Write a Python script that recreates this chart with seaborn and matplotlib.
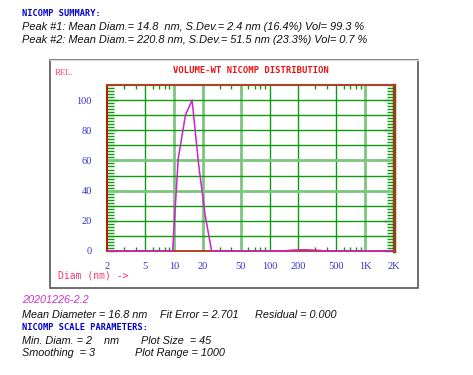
import numpy as np
import pandas as pd
import seaborn as sns
import matplotlib
matplotlib.use("Agg")
import matplotlib.pyplot as plt
from matplotlib.patches import Rectangle

# ---- data ----
diam_nm = [2, 9.7, 11.1, 13.2, 15.5, 18.1, 21.2, 24.8,
           130, 152, 178, 208, 244, 285, 334, 391, 2000]
rel_vol = [0, 0, 61, 90, 100, 58, 24, 0,
           0, 0.3, 0.6, 0.8, 0.8, 0.6, 0.4, 0, 0]
x_ticks = [2, 5, 10, 20, 50, 100, 200, 500, 1000, 2000]
x_labels = ["2", "5", "10", "20", "50", "100", "200", "500", "1K", "2K"]
y_ticks = [0, 20, 40, 60, 80, 100]

summary_lines = [
    "Peak #1: Mean Diam.= 14.8  nm, S.Dev.= 2.4 nm (16.4%) Vol= 99.3 %",
    "Peak #2: Mean Diam.= 220.8 nm, S.Dev.= 51.5 nm (23.3%) Vol= 0.7 %",
]

df = pd.DataFrame({"diam": diam_nm, "rel": rel_vol})

sns.set_style("white")
W, H = 473, 375
fig = plt.figure(figsize=(W / 100, H / 100), dpi=100)

def fx(px):
    return px / W

def fy(py):
    return 1 - py / H

# outer frame
fig.patches.append(Rectangle((fx(50), fy(288)), fx(418) - fx(50), fy(60) - fy(288),
                             transform=fig.transFigure, fill=False,
                             edgecolor="#555555", linewidth=1.2))
fig.lines.append(plt.Line2D([fx(50), fx(418)], [fy(59.5), fy(59.5)],
                            transform=fig.transFigure, color="#dddddd", linewidth=1))

ax = fig.add_axes([fx(107), fy(251), fx(394) - fx(107), fy(85) - fy(251)])
ax.set_xscale("log")
ax.set_xlim(2, 2000)
ax.set_ylim(0, 110)

dark = "#109a10"
light = "#7cc67c"
vgrid = {5: dark, 10: light, 20: light, 50: light, 100: dark, 200: dark, 500: dark, 1000: light}
for v, c in vgrid.items():
    ax.axvline(v, color=c, linewidth=1.0 if c == dark else 2.0, zorder=1)
for h in range(10, 101, 10):
    c = light if h in (60, 40) else dark
    ax.axhline(h, color=c, linewidth=1.0 if c == dark else 2.0, zorder=1)

sns.lineplot(data=df, x="diam", y="rel", ax=ax, color="#cc22cc", linewidth=1.1,
             zorder=5, estimator=None, sort=False)
for ln in ax.lines[-1:]:
    ln.set_clip_on(False)
ax.set_xlabel("")
ax.set_ylabel("")

ax.set_xticks(x_ticks)
ax.set_xticklabels(x_labels)
minor_x = [m * 10 ** e for e in range(0, 4) for m in range(2, 10)]
minor_x = [m for m in minor_x if 2 < m < 2000 and m not in x_ticks]
ax.set_xticks(minor_x, minor=True)
ax.set_yticks(y_ticks)
ax.set_yticks(np.arange(0, 111, 2), minor=True)

ax.tick_params(axis="x", which="major", length=0, pad=8, labelsize=7.5,
               labelcolor="#3333cc")
ax.tick_params(axis="x", which="minor", direction="in", length=3, width=1,
               color=dark, top=True, bottom=True)
ax.tick_params(axis="y", which="major", direction="in", length=7, width=1,
               color=dark, left=True, right=True, pad=11, labelsize=7.5,
               labelcolor="#3333cc")
ax.tick_params(axis="y", which="minor", direction="in", length=5, width=1,
               color=dark, left=True, right=True)
for lab in ax.get_xticklabels() + ax.get_yticklabels():
    lab.set_family("Liberation Serif")

ax.spines["left"].set_color("#aa2200")
ax.spines["bottom"].set_color("#aa2200")
ax.spines["top"].set_color("#aa4422")
ax.spines["right"].set_color("#8b4513")
ax.spines["left"].set_linewidth(1.5)
ax.spines["bottom"].set_linewidth(1.2)
ax.spines["top"].set_linewidth(1.5)
ax.spines["right"].set_linewidth(2.5)
for s in ax.spines.values():
    s.set_visible(True)
    s.set_zorder(4)

mono_bold = dict(family="DejaVu Sans Mono", fontweight="bold")
ital = dict(family="Liberation Sans", style="italic", fontsize=7.8, color="#111111")
ital_sum = dict(ital, fontsize=7.9)

fig.text(fx(22), fy(14), "NICOMP SUMMARY:", color="#0000cc", fontsize=6.2,
         va="center", ha="left", **mono_bold)
fig.text(fx(22), fy(26.5), summary_lines[0], va="center", ha="left", **ital_sum)
fig.text(fx(22), fy(40), summary_lines[1], va="center", ha="left", **ital_sum)

fig.text(fx(55), fy(73), "REL.", color="#ff3366", fontsize=6.3, va="center",
         ha="left", family="Liberation Serif")
fig.text(fx(250.5), fy(70.5), "VOLUME-WT NICOMP DISTRIBUTION", color="#ee1111",
         fontsize=6.4, va="center", ha="center", **mono_bold)
fig.text(fx(58), fy(275), "Diam (nm) ->", color="#ff3366", fontsize=7,
         va="center", ha="left", family="DejaVu Sans Mono")

fig.text(fx(22), fy(300), "20201226-2.2", va="center", ha="left",
         family="Liberation Sans", style="italic", fontsize=7.8, color="#cc33cc")
fig.text(fx(22), fy(315), "Mean Diameter = 16.8 nm", va="center", ha="left", **ital)
fig.text(fx(160), fy(315), "Fit Error = 2.701", va="center", ha="left", **ital)
fig.text(fx(255), fy(315), "Residual = 0.000", va="center", ha="left", **ital)
fig.text(fx(22), fy(328), "NICOMP SCALE PARAMETERS:", color="#0000cc", fontsize=6.2,
         va="center", ha="left", **mono_bold)
fig.text(fx(22), fy(340.5), "Min. Diam. = 2    nm", va="center", ha="left", **ital)
fig.text(fx(141), fy(340.5), "Plot Size  = 45", va="center", ha="left", **ital)
fig.text(fx(22), fy(353), "Smoothing  = 3", va="center", ha="left", **ital)
fig.text(fx(135), fy(353), "Plot Range = 1000", va="center", ha="left", **ital)

fig.savefig("out.png", dpi=100)
